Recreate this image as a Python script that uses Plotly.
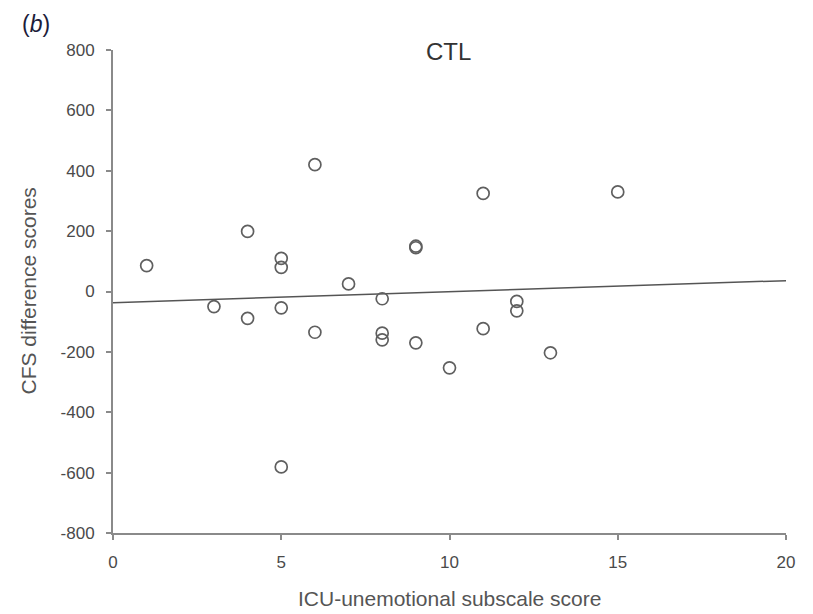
import plotly.graph_objects as go

# Data
icu_score = [1, 3, 4, 4, 5, 5, 5, 5, 6, 6, 7, 8, 8, 8, 9, 9, 9, 10, 11, 11, 12, 12, 13, 15]
cfs_diff = [86, -50, 199, -89, 110, 80, -54, -581, 420, -135, 25, -24, -138, -160, 145, 150, -170, -253, 325, -123, -33, -64, -203, 330]

fit_x = [0, 20]
fit_y = [-37, 36]

x_ticks = [0, 5, 10, 15, 20]
y_ticks = [-800, -600, -400, -200, 0, 200, 400, 600, 800]

FONT = "Liberation Sans, Arial, sans-serif"
GREY_TXT = "#555555"

fig = go.Figure()
fig.add_trace(go.Scatter(
    x=fit_x, y=fit_y, mode="lines",
    line=dict(color="#555555", width=1.5),
    showlegend=False, hoverinfo="skip",
))
fig.add_trace(go.Scatter(
    x=icu_score, y=cfs_diff, mode="markers",
    marker=dict(symbol="circle-open", size=12, color="#5f5f5f", line=dict(width=1.7)),
    showlegend=False,
))

axis_common = dict(
    showgrid=False, zeroline=False, showline=True, linecolor="#8a8a8a", linewidth=2,
    ticks="outside", ticklen=5, tickwidth=1.5, tickcolor="#8a8a8a",
    tickfont=dict(family=FONT, size=17, color="#4a4a4a"),
)

fig.update_layout(
    width=805, height=606,
    margin=dict(l=105, r=27, t=42, b=81),
    plot_bgcolor="white", paper_bgcolor="white",
    xaxis=dict(range=[0, 20], tickvals=x_ticks, ticktext=[str(v) for v in x_ticks],
               ticklabelstandoff=8, **axis_common),
    yaxis=dict(range=[-800, 800], tickvals=y_ticks, ticktext=[str(v) for v in y_ticks],
               ticklabelstandoff=8, **axis_common),
    annotations=[
        dict(text="CTL", x=0.498, xref="paper", y=0.996, yref="paper",
             xanchor="center", yanchor="middle", showarrow=False,
             font=dict(family=FONT, size=24, color="#333333")),
        dict(text="(<i>b</i>)", x=-0.114, xref="paper", y=1.054, yref="paper",
             xanchor="center", yanchor="middle", showarrow=False,
             font=dict(family=FONT, size=23, color="#1c1c3a")),
        dict(text="CFS difference scores", x=-0.1263, xref="paper", y=0.5, yref="paper",
             xanchor="center", yanchor="middle", textangle=-90, showarrow=False,
             font=dict(family=FONT, size=21, color=GREY_TXT)),
        dict(text="ICU-unemotional subscale score", x=0.5, xref="paper", y=-0.1366, yref="paper",
             xanchor="center", yanchor="middle", showarrow=False,
             font=dict(family=FONT, size=21, color=GREY_TXT)),
    ],
)

fig.write_html("out.html")
